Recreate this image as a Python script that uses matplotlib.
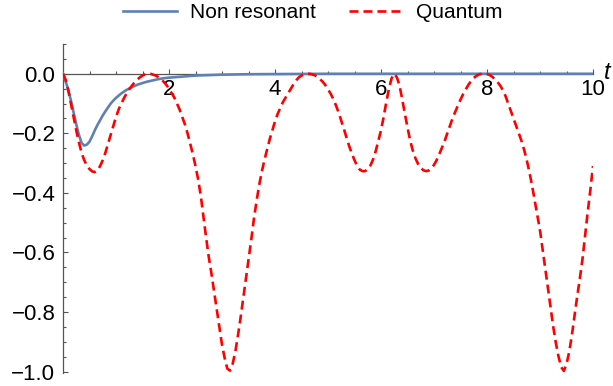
import numpy as np
import matplotlib.pyplot as plt
from matplotlib.ticker import MultipleLocator, FuncFormatter

plt.rcParams['font.family'] = ['Liberation Sans', 'DejaVu Sans']

# quantum curve, every 0.05 in t
t_q = np.round(np.linspace(0, 10, 201), 2)
quantum = [
    # 0.00 - 1.60
    0, -0.02, -0.056, -0.10, -0.145, -0.19, -0.23, -0.265, -0.29, -0.308, -0.32,
    -0.328, -0.33, -0.325, -0.31, -0.29, -0.265, -0.235, -0.205, -0.175, -0.145,
    -0.12, -0.10, -0.082, -0.066, -0.052, -0.04, -0.029, -0.02, -0.012, -0.006,
    -0.002, 0,
    # 1.65 - 3.20
    0, -0.003, -0.006, -0.011, -0.018, -0.027, -0.037, -0.05, -0.065, -0.08, -0.1,
    -0.12, -0.145, -0.17, -0.2, -0.235, -0.27, -0.31, -0.355, -0.41, -0.48, -0.55,
    -0.615, -0.67, -0.73, -0.79, -0.85, -0.91, -0.955, -0.99, -0.997, -0.975,
    # 3.25 - 4.65
    -0.935, -0.88, -0.82, -0.755, -0.69, -0.625, -0.56, -0.49, -0.43, -0.375, -0.33,
    -0.29, -0.255, -0.22, -0.19, -0.16, -0.135, -0.115, -0.095, -0.08, -0.065, -0.05,
    -0.035, -0.022, -0.012, -0.006, -0.002, 0, 0,
    # 4.70 - 6.25
    -0.002, -0.005, -0.01, -0.018, -0.027, -0.038, -0.052, -0.067, -0.085, -0.106,
    -0.13, -0.157, -0.185, -0.215, -0.243, -0.268, -0.29, -0.31, -0.322, -0.327,
    -0.327, -0.32, -0.308, -0.288, -0.26, -0.225, -0.19, -0.145, -0.095, -0.05,
    -0.015, 0,
    # 6.30 - 7.95
    -0.012, -0.04, -0.085, -0.134, -0.18, -0.224, -0.258, -0.284, -0.303, -0.316,
    -0.324, -0.327, -0.325, -0.318, -0.306, -0.29, -0.27, -0.248, -0.226, -0.2,
    -0.175, -0.15, -0.128, -0.107, -0.087, -0.068, -0.052, -0.037, -0.024, -0.014,
    -0.007, -0.002, 0, 0,
    # 8.00 - 10.00
    -0.001, -0.004, -0.01, -0.018, -0.028, -0.04, -0.055, -0.075, -0.1, -0.125,
    -0.15, -0.175, -0.2, -0.225, -0.255, -0.29, -0.33, -0.375, -0.425, -0.475,
    -0.526, -0.59, -0.655, -0.72, -0.785, -0.85, -0.905, -0.95, -0.985, -0.998,
    -0.975, -0.935, -0.88, -0.815, -0.75, -0.69, -0.625, -0.545, -0.465, -0.39,
    -0.31,
]

# non resonant curve
t_nr = [0, 0.05, 0.1, 0.15, 0.2, 0.25, 0.3, 0.35, 0.4, 0.45, 0.5, 0.55, 0.6, 0.65,
        0.7, 0.75, 0.8, 0.85, 0.9, 0.95, 1.0, 1.1, 1.2, 1.3, 1.4, 1.5, 1.6, 1.7, 1.8,
        1.9, 2.0, 2.5, 3.0, 3.5, 4.0, 5.0, 6.0, 7.0, 8.0, 9.0, 10.0]
non_res = [0, -0.025, -0.055, -0.09, -0.13, -0.17, -0.205, -0.232, -0.241, -0.238,
           -0.228, -0.21, -0.19, -0.172, -0.156, -0.14, -0.126, -0.113, -0.1, -0.09,
           -0.081, -0.066, -0.054, -0.045, -0.037, -0.031, -0.026, -0.022, -0.018,
           -0.015, -0.013, -0.006, -0.003, -0.0015, -0.001, 0, 0, 0, 0, 0, 0]

x_ticks = [2, 4, 6, 8, 10]
y_ticks = [0, -0.2, -0.4, -0.6, -0.8, -1.0]

fig = plt.figure(figsize=(6.13, 3.86), dpi=100)
ax = fig.add_axes([63/613, 13/386, 530/613, 329/386])

ax.plot(t_nr, non_res, color='#5E81B5', lw=1.9, label='Non resonant', zorder=3)
ax.plot(t_q, quantum, color='#FF0000', lw=1.9, ls=(0, (3.4, 1.9)),
        label='Quantum', zorder=4)

ax.set_xlim(0, 10)
ax.set_ylim(-1.005, 0.1)

axcol = '#555555'
for s in ['top', 'right']:
    ax.spines[s].set_visible(False)
ax.spines['left'].set_position(('data', 0))
ax.spines['bottom'].set_position(('data', 0))
for s in ['left', 'bottom']:
    ax.spines[s].set_color(axcol)
    ax.spines[s].set_linewidth(0.9)

ax.set_xticks(x_ticks)
ax.set_yticks(y_ticks)
ax.xaxis.set_minor_locator(MultipleLocator(0.5))
ax.yaxis.set_minor_locator(MultipleLocator(0.05))
ax.yaxis.set_major_formatter(FuncFormatter(lambda v, p: f'{v:.1f}'.replace('-', '\u2212')))

ax.tick_params(which='both', direction='in', color=axcol, width=0.8, labelsize=16)
ax.tick_params(which='major', length=3.8)
ax.tick_params(which='minor', length=2.2)
ax.tick_params(axis='x', pad=3.5)
ax.tick_params(axis='y', pad=5.5)

ax.text(10.2, -0.018, 't', fontsize=17, style='italic', ha='left', va='baseline')

fig.legend(loc='upper center', bbox_to_anchor=(0.51, 1.04), ncol=2, frameon=False,
           fontsize=15, handlelength=2.6, columnspacing=1.6, handletextpad=0.6)

fig.savefig('out.png', dpi=100)
